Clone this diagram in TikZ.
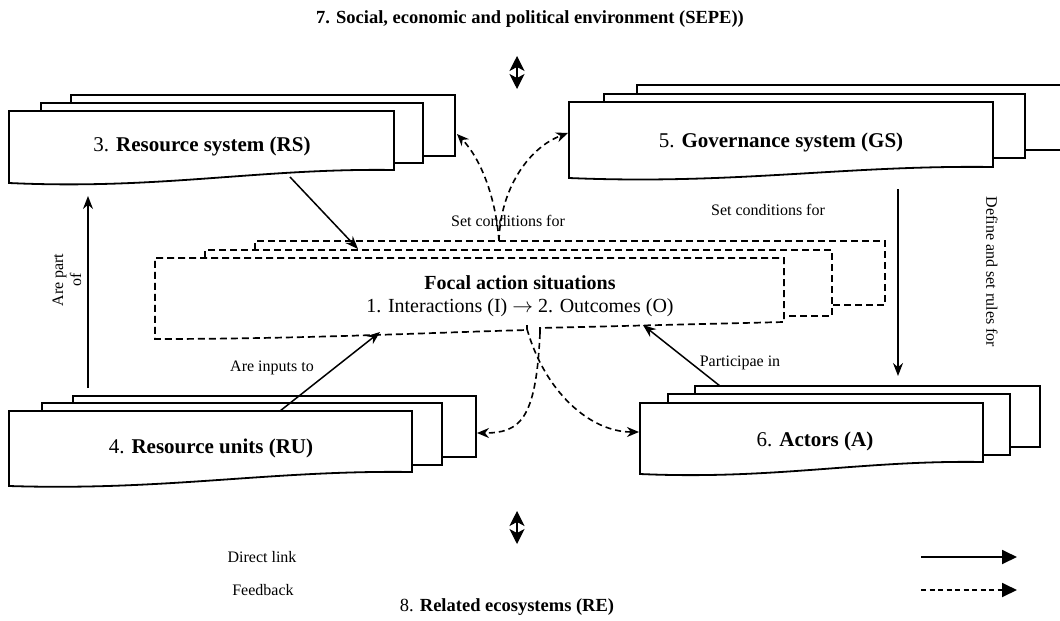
\documentclass[tikz,border=0pt]{standalone}
\usepackage{fontspec}
\setmainfont{Liberation Serif}
\usetikzlibrary{arrows.meta}
\tikzset{
  docbox/.style={draw=black, line width=1.8pt, fill=white, line join=miter},
  dbox/.style={draw=black, line width=1.7pt, dash pattern=on 7pt off 4pt},
  link/.style={draw=black, line width=1.5pt, -{Stealth[length=13pt,width=10pt]}},
  feedback/.style={draw=black, line width=1.6pt, dash pattern=on 6pt off 4pt, -{Stealth[length=12pt,width=10pt]}},
  lbl/.style={font=\fontsize{16}{18}\selectfont, inner sep=0pt},
  boxlbl/.style={font=\fontsize{21}{24}\selectfont, inner sep=0pt},
  bigtitle/.style={font=\fontsize{18.5}{21}\selectfont\bfseries, inner sep=0pt},
  dblarrow/.style={draw=black, line width=1.2pt, {Stealth[length=15pt,width=15pt,inset=4pt]}-{Stealth[length=15pt,width=15pt,inset=4pt]}},
  legsolid/.style={draw=black, line width=1.8pt, -{Triangle[length=15pt,width=14pt]}},
  legdash/.style={draw=black, line width=1.8pt, dash pattern=on 5pt off 3.5pt, -{Triangle[length=15pt,width=14pt]}}
}
\begin{document}
\begin{tikzpicture}[x=1pt,y=-1pt]
\clip (0,0) rectangle (1060,621);
\fill[white] (0,0) rectangle (1060,621);

% title
\node[bigtitle] (title) at (530,19) {7. Social, economic and political environment (SEPE))};
\coordinate (sepeA) at (517,56);
\coordinate (sepeB) at (517,89);
\draw[dblarrow] (sepeA) -- (sepeB);

% Resource system stack
\path[docbox] (71,95) rectangle (455,156);
\path[docbox] (41,103) rectangle (423,163);
\path[docbox] (9,111) -- (394,111) -- (394,170) .. controls (260,168) and (160,190) .. (9,183) -- cycle;
\node[boxlbl] (rs) at (202,146) {3. \textbf{Resource system (RS)}};

% Governance system stack
\path[docbox] (637,85) rectangle (1080,150);
\path[docbox] (604,94) rectangle (1025,158);
\path[docbox] (569,102) -- (993,102) -- (993,167) .. controls (845,165) and (735,185) .. (569,178) -- cycle;
\node[boxlbl] (gs) at (781,142) {5. \textbf{Governance system (GS)}};

% Resource units stack
\path[docbox] (73,396) rectangle (476,457);
\path[docbox] (42,403) rectangle (442,465);
\path[docbox] (9,411) -- (412,411) -- (412,472) .. controls (271,470) and (166,491) .. (9,486) -- cycle;
\node[boxlbl] (ru) at (211,448) {4. \textbf{Resource units (RU)}};

% Actors stack
\path[docbox] (695,386) rectangle (1040,447);
\path[docbox] (668,394) rectangle (1010,455);
\path[docbox] (640,403) -- (983,403) -- (983,462) .. controls (863,460) and (774,480) .. (640,474) -- cycle;
\node[boxlbl] (act) at (815,441) {6. \textbf{Actors (A)}};

% Focal action situations (dashed stack)
\draw[dbox] (255,250) -- (255,241) -- (885,241) -- (885,305) -- (832,305);
\draw[dbox] (205,258) -- (205,250) -- (832,250) -- (832,316) -- (784,316);
\draw[dbox] (540,334) -- (540,328) -- (784,322) -- (784,258) -- (155,258) -- (155,339) .. controls (300,339) and (420,333) .. (527,330) -- (527,325);
\node[font=\fontsize{20}{22}\selectfont\bfseries, inner sep=0pt] (fa) at (520,283) {Focal action situations};
\node[font=\fontsize{20}{22}\selectfont, inner sep=0pt] (fa2) at (520,308) {1. Interactions (I) $\rightarrow$ 2. Outcomes (O)};

% connector end points
\coordinate (rsOut) at (290,177);
\coordinate (faTopIn) at (358,249);
\coordinate (ruUp) at (88,388);
\coordinate (rsBelow) at (88,196);
\coordinate (ruTop) at (280,411);
\coordinate (faBotL) at (380,332);
\coordinate (actTop) at (720,386);
\coordinate (faBotR) at (643,325);
\coordinate (gsBelow) at (898,189);
\coordinate (actAbove) at (898,376);
\coordinate (faTopFb) at (499,241);
\coordinate (rsRight) at (457,134);
\coordinate (gsLeft) at (568,133);
\coordinate (faBotFbA) at (540,333);
\coordinate (faBotFbB) at (527,329);
\coordinate (ruRight) at (477,433);
\coordinate (actLeft) at (639,432);

% direct links
\draw[link] (rsOut) -- (faTopIn);
\draw[link] (ruUp) -- (rsBelow);
\draw[link] (ruTop) -- (faBotL);
\draw[link] (actTop) -- (faBotR);
\draw[link] (gsBelow) -- (actAbove);

% feedbacks
\draw[feedback] (faTopFb) .. controls (496,200) and (482,160) .. (rsRight);
\draw[feedback] (faTopFb) .. controls (500,190) and (528,148) .. (gsLeft);
\draw[feedback] (faBotFbA) .. controls (536,420) and (520,433) .. (ruRight);
\draw[feedback] (faBotFbB) .. controls (545,392) and (590,432) .. (actLeft);

% labels
\node[lbl] (scf1) at (508,221) {Set conditions for};
\node[lbl] (scf2) at (768,210) {Set conditions for};
\node[lbl] (api) at (272,368) {Are inputs to};
\node[lbl] (pin) at (740,363) {Participae in};
\node[lbl, rotate=90, align=center] (apo) at (67,280) {Are part\\of};
\node[lbl, rotate=-90] (dsr) at (992,272) {Define and set rules for};

% bottom
\coordinate (reA) at (517,511);
\coordinate (reB) at (517,544);
\draw[dblarrow] (reA) -- (reB);
\node[lbl] (dl) at (262,557) {Direct link};
\node[lbl] (fbk) at (263,590) {Feedback};
\coordinate (leg1a) at (921,557);
\coordinate (leg1b) at (1017,557);
\coordinate (leg2a) at (921,590);
\coordinate (leg2b) at (1017,590);
\draw[legsolid] (leg1a) -- (leg1b);
\draw[legdash] (leg2a) -- (leg2b);
\node[font=\fontsize{18.5}{21}\selectfont, inner sep=0pt] (re) at (507,607) {8. \textbf{Related ecosystems (RE)}};
\end{tikzpicture}
\end{document}
